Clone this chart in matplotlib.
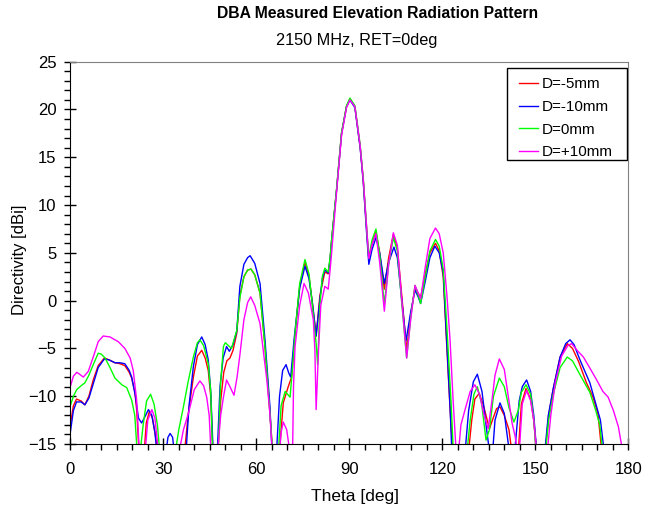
import matplotlib
matplotlib.use("Agg")
import matplotlib.pyplot as plt
from matplotlib.ticker import MultipleLocator
from matplotlib.patches import Rectangle

plt.rcParams['font.family'] = ['Liberation Sans', 'DejaVu Sans']

LOW = -16  # below axis floor, clipped by the axes

theta_red = [0, 1, 2, 3.5, 4.7, 6, 7.4, 9, 11, 12.5, 14.4, 16, 17.6, 19, 19.8, 20.8, 21.4, 22.2,
             23.8, 24.5, 25.5, 26.5, 27.5, 28.2,
             36.8, 38, 39.7, 41, 42.4, 43.5, 44.5, 45.3, 46,
             47.6, 48.5, 49.5, 50.5, 51.5, 52.5, 53.7, 54.7, 56, 57.2, 58.3, 59.5, 61.2, 62.8, 64.4, 65.3,
             67.4, 68.7, 70.3, 71.4, 72.5, 74, 75.7, 77, 78, 79.3, 80.5, 82.1, 83.2, 83.8, 84.3, 85.9,
             87.5, 89.1, 90.2, 91.8, 93.5, 94.5, 95.6, 96.3, 97.3, 98.6, 99.8, 101.3, 102.7, 104.2,
             105.5, 106.8, 108.5, 109.8, 111.2, 112.2, 113, 114.5, 116, 117.8, 119, 120.3, 121.4,
             122.5, 123.4,
             128.4, 129.5, 130.5, 131.9, 133.3, 135.2, 136.5, 137.5, 138.6, 140, 141.5, 142.5,
             144.5, 145.5, 147, 148.5, 149.5, 150.4,
             153.2, 154.3, 155.8, 158, 160.3, 162, 164, 166.5, 168.5, 170.2, 171.5]
db_red = [-13.0, -11.0, -10.3, -10.5, -10.9, -10.0, -8.3, -6.8, -6.0, -6.2, -6.5, -6.6, -6.8, -7.5, -8.1, -9.5, -11.4, LOW,
          LOW, -12.8, -11.6, -12.3, -14.2, LOW,
          LOW, -12.0, -8.0, -5.8, -5.2, -6.0, -7.3, -10.0, LOW,
          LOW, -10.5, -7.5, -6.3, -6.0, -5.2, -3.4, 0.5, 2.5, 3.2, 3.3, 2.7, 0.8, -4.8, -11.8, LOW,
          LOW, -10.7, -9.0, -8.0, -3.5, 1.5, 4.0, 2.5, 0.0, -3.7, 0.5, 3.0, 2.8, 4.3, 6.3, 11.6,
          17.5, 20.3, 21.1, 20.3, 16.1, 12.6, 7.4, 4.3, 5.8, 7.2, 5.0, 1.2, 4.5, 6.9,
          5.5, 1.0, -5.2, -1.5, 1.4, 0.8, 0.3, 2.8, 5.0, 6.0, 5.2, 2.5, -4.5,
          -11.3, LOW,
          LOW, -12.5, -10.3, -9.7, -11.0, -13.4, -12.2, -11.3, -11.1, -12.0, -13.5, LOW,
          LOW, -10.8, -9.2, -10.3, -12.5, LOW,
          LOW, -12.0, -9.2, -5.9, -4.5, -5.0, -6.4, -8.6, -10.0, -11.8, LOW]

theta_blue = [0, 1, 2, 3.5, 4.7, 6, 7.4, 9, 11, 12.5, 14.4, 16, 17.6, 19, 19.8, 21, 22, 23, 24, 25.2,
              26.3, 27.3, 28,
              30.8, 31.5, 32.2, 33, 33.6,
              37.3, 38.3, 39.7, 41, 42.4, 43.5, 44.5, 45.3, 46.1,
              47.4, 48.3, 49.3, 50.4, 51.3, 52.5, 53.7, 54.7, 56, 57.2, 58, 59.5, 61.2, 62.8, 64.4, 65.1,
              66.5, 67.5, 68.5, 69.6, 70.5, 71.1, 72.2, 74, 75.7, 77, 78.2, 79.3, 80.5, 81.3, 82.1, 83.2,
              83.8, 84.3, 85.9, 87.5, 89.1, 90.2, 91.8, 93.5, 94.5, 95.6, 96.3, 97.3, 98.6, 99.8, 101.3,
              102.7, 104.4, 105.5, 106.8, 108.3, 109.8, 111.2, 112.2, 113, 114.5, 116, 117.6, 119, 120.3,
              121.4, 122.5, 123.1,
              127.3, 128.5, 130, 131.3, 132.8, 134.3, 135.3, 136.2, 137, 138.6, 140, 141.7,
              143.3, 144.8, 145.8, 147.2, 148.5, 149.5, 150.5,
              153, 154.2, 155.8, 158, 159.8, 161.2, 162.5, 164.4, 167.6, 169.8, 171, 172.3]
db_blue = [-13.8, -11.5, -10.6, -10.6, -10.9, -10.2, -8.7, -7.0, -6.1, -6.2, -6.5, -6.5, -6.6, -7.3, -8.0, -10.0, -12.3, -12.8, -12.2, -11.4,
           -12.0, -13.8, LOW,
           LOW, -14.3, -13.9, -14.3, LOW,
           LOW, -11.0, -6.9, -4.6, -3.8, -4.6, -6.2, -9.5, LOW,
           LOW, -9.0, -6.0, -4.8, -5.3, -4.6, -3.2, 1.5, 3.8, 4.5, 4.7, 3.9, 1.8, -4.1, -11.1, LOW,
           LOW, -10.0, -7.3, -6.7, -7.6, -8.0, -4.0, 1.3, 3.6, 2.3, -0.5, -3.7, 0.1, 2.3, 3.2, 2.9,
           4.3, 6.3, 11.6, 17.5, 20.3, 21.0, 20.2, 16.0, 12.4, 7.0, 3.8, 5.3, 6.6, 5.0, 1.8,
           4.0, 5.6, 4.5, 0.5, -4.2, -1.2, 1.1, 0.4, -0.3, 2.0, 4.5, 5.7, 5.0, 2.9,
           -4.1, -11.1, LOW,
           LOW, -11.5, -8.5, -7.7, -9.5, -13.5, LOW, LOW, -12.5, -10.7, -11.8, LOW,
           LOW, -10.5, -9.0, -8.3, -9.5, -12.0, LOW,
           LOW, -12.0, -9.2, -5.9, -4.5, -4.1, -4.6, -6.2, -8.6, -11.1, -12.5, LOW]

theta_green = [0, 1, 2.1, 3.5, 4.7, 6, 7.4, 9, 10, 11.2, 12.8, 14.4, 16.6, 18.2, 19.8, 20.8, 21.6,
               22.5, 23.5, 24.6, 25.9, 27, 28.1, 28.9,
               33.8, 35, 36.5, 38, 39.7, 41, 41.8, 43, 44.5, 45.3, 45.9,
               47.7, 48.5, 49.4, 50, 51, 52, 53.7, 54.7, 56, 57.2, 58.3, 59.5, 61.2, 62.8, 64.4, 65.3,
               67.1, 68, 69.3, 70.9, 71.8, 72.5, 74, 75.7, 77, 77.9, 79.3, 79.8, 80.5, 81.3, 82.1, 83.2,
               83.8, 84.3, 85.9, 87.5, 89.1, 90.2, 91.8, 93.5, 94.5, 95.6, 96.3, 97.3, 98.6, 99.8, 101.3,
               102.7, 104.2, 105.5, 106.8, 108.5, 109.8, 111.2, 112.2, 113, 114.5, 116, 117.8, 119, 120.3,
               121.6, 122.8, 123.6,
               127.9, 129, 130.2, 131.3, 132.7, 134.1, 135.2, 136.5, 138.4, 140, 141.5, 143.1, 144.5,
               145.5, 147, 148.5, 149.5, 150.4,
               153.2, 154.3, 155.8, 158, 160.3, 162, 164, 167.6, 169.5, 170.8, 171.8]
db_green = [-11.0, -10.0, -9.3, -8.9, -8.6, -7.8, -6.7, -5.5, -5.6, -6.0, -7.0, -8.1, -8.8, -9.1, -10.4, -12.0, LOW,
            LOW, -13.0, -10.5, -9.8, -10.8, -13.0, LOW,
            LOW, -13.5, -11.1, -8.5, -5.9, -4.4, -4.1, -4.7, -6.6, -9.5, LOW,
            LOW, -8.5, -4.8, -4.4, -4.7, -5.0, -3.1, 0.3, 2.5, 3.2, 3.3, 2.7, 0.8, -4.8, -11.8, LOW,
            LOW, -11.0, -9.5, -10.1, -6.5, -3.4, 1.8, 4.3, 2.8, 0.1, -4.5, -6.7, -0.5, 2.5, 3.4, 3.0,
            4.5, 6.4, 11.7, 17.6, 20.4, 21.2, 20.4, 16.3, 12.8, 7.6, 4.5, 6.3, 7.5, 4.8, -0.4,
            3.8, 6.6, 5.2, 0.2, -6.0, -1.8, 1.6, 0.6, -0.3, 2.5, 5.2, 6.4, 5.7, 3.3,
            -3.5, -10.5, LOW,
            LOW, -12.5, -9.8, -9.0, -10.8, -14.6, -13.5, -10.0, -8.1, -9.0, -11.2, -12.7, -11.5,
            -9.6, -8.8, -9.8, -12.5, LOW,
            LOW, -12.5, -9.8, -7.0, -5.9, -6.3, -7.5, -9.6, -11.5, -13.0, LOW]

theta_mag = [0, 1, 2.1, 3, 4.2, 5.8, 7.4, 9, 10.6, 12.8, 15.5, 17.6, 19.3, 20.3, 21.4, 22.3,
             24.1, 25, 26.3, 27.3, 28.5,
             35, 36.5, 38.1, 40, 41.8, 43, 44, 44.8, 45.4,
             47.5, 48.5, 49.4, 50.4, 51.5, 52.8, 53.8, 54.7, 56, 57.2, 58.2, 59.5, 61.2, 63.4, 64.3, 65.2,
             67.5, 68, 68.7, 69.8, 70.9,
             71.7, 72, 72.5, 74, 75.4, 76.8, 78.4, 78.9, 79.3, 80.1, 80.8, 81.5, 82.1, 83.2, 83.8, 84.3,
             85.9, 87.5, 89.1, 90.2, 91.8, 93.5, 94.5, 95.6, 96.3, 97.3, 98.6, 99.8, 101.3, 102.7, 104.2,
             105.5, 106.8, 108.5, 109.8, 111.2, 112.2, 113, 114.5, 116, 117.8, 119, 120.3, 121.5, 122.5,
             123.5, 124.5,
             125.2, 126, 127.6, 129, 130.5, 132, 133.5, 134.8, 136, 137, 138.4, 140, 141.5, 142.5, 143.5, 144.3,
             144.8, 145.8, 147.2, 148.5, 149.5, 150.5,
             153.8, 155, 156.5, 158.5, 160.5, 161.7, 163.5, 165.5, 167.5, 169.8, 171.8, 173.5, 175.2, 176.8, 178.3]
db_mag = [-9.0, -7.9, -7.5, -7.7, -8.0, -7.4, -5.9, -4.3, -3.7, -3.8, -4.3, -5.0, -6.0, -7.3, -10.4, LOW,
          LOW, -12.5, -11.4, -12.3, LOW,
          LOW, -13.5, -11.8, -9.3, -8.4, -8.9, -10.1, -12.0, LOW,
          LOW, -12.0, -10.1, -8.3, -9.0, -9.9, -8.0, -5.7, -2.0, -0.2, 0.4, -0.5, -2.4, -8.3, -11.5, LOW,
          LOW, -13.8, -12.7, -13.5, LOW,
          LOW, -9.0, -4.8, -0.5, 1.8, 0.8, -2.0, -5.2, -11.4, -5.0, -0.5, 0.6, 1.5, 1.2, 3.2, 5.0,
          11.4, 17.3, 20.2, 21.0, 20.3, 16.2, 12.7, 7.6, 4.4, 5.8, 7.0, 4.0, -1.1, 3.8, 7.1,
          5.8, 0.5, -6.0, -2.0, 1.6, 0.8, 0.2, 3.5, 6.5, 7.6, 7.0, 5.0, 0.5, -4.1,
          -10.5, LOW,
          LOW, -13.0, -11.1, -9.5, -8.8, -9.8, -12.0, -13.4, -10.5, -7.8, -6.1, -7.2, -10.5, -12.8, -14.2, LOW,
          LOW, -10.8, -9.4, -10.5, -12.5, LOW,
          LOW, -12.0, -8.5, -5.8, -4.7, -4.5, -5.2, -5.9, -7.0, -8.3, -9.5, -10.1, -11.5, -13.2, LOW]

series = [
    ("D=-5mm", theta_red, db_red, "#ff0000"),
    ("D=-10mm", theta_blue, db_blue, "#0000ff"),
    ("D=0mm", theta_green, db_green, "#00ff00"),
    ("D=+10mm", theta_mag, db_mag, "#ff00ff"),
]

W, H = 658, 512
AX_L, AX_R, AX_T, AX_B = 70.3, 628.3, 61.7, 444.0

fig = plt.figure(figsize=(W / 100, H / 100), dpi=100)
ax = fig.add_axes([AX_L / W, 1 - AX_B / H, (AX_R - AX_L) / W, (AX_B - AX_T) / H])

for label, th, db, c in series:
    ax.plot(th, db, color=c, lw=1.0, label=label, solid_joinstyle='round')

ax.set_xlim(0, 180)
ax.set_ylim(-15, 25)
ax.xaxis.set_major_locator(MultipleLocator(30))
ax.xaxis.set_minor_locator(MultipleLocator(5))
ax.yaxis.set_major_locator(MultipleLocator(5))
ax.yaxis.set_minor_locator(MultipleLocator(1))
ax.tick_params(which='major', direction='inout', length=8, width=1, labelsize=12)
ax.tick_params(axis='x', which='major', pad=9)
ax.tick_params(axis='y', which='major', pad=6)
ax.tick_params(which='minor', direction='out', length=4, width=1)
ax.tick_params(top=False, right=False)

for s in ['top', 'right']:
    ax.spines[s].set_color('#808080')
for s in ['left', 'bottom']:
    ax.spines[s].set_color('black')

ax.set_xlabel("Theta [deg]", fontsize=12.5)
ax.xaxis.set_label_coords((355 - AX_L) / (AX_R - AX_L), -(497 - AX_B) / (AX_B - AX_T))
ax.xaxis.label.set_va('center')
ax.set_ylabel("Directivity [dBi]", fontsize=12)
ax.yaxis.set_label_coords(-(AX_L - 20) / (AX_R - AX_L), (AX_B - 260) / (AX_B - AX_T))
ax.yaxis.label.set_va('center')

fig.text(377.5 / W, 1 - 14 / H, "DBA Measured Elevation Radiation Pattern",
         ha='center', va='center', fontsize=11.3, fontweight='bold')
fig.text(357 / W, 1 - 40 / H, "2150 MHz, RET=0deg",
         ha='center', va='center', fontsize=11.7)

# legend frame (square box at the reference position)
def fx(px):
    return (px - AX_L) / (AX_R - AX_L)

def fy(py):
    return (AX_B - py) / (AX_B - AX_T)

ax.add_patch(Rectangle((fx(507.3), fy(160.0)), fx(626.7) - fx(507.3), fy(68.3) - fy(160.0),
                       transform=ax.transAxes, facecolor='white', edgecolor='black',
                       lw=1.0, zorder=5))
leg = ax.legend(loc='upper left', bbox_to_anchor=(fx(519.3), fy(77.5)), fontsize=11,
                frameon=False, borderaxespad=0.0, borderpad=0.0,
                handlelength=1.25, handletextpad=0.22, labelspacing=0.56)
leg.set_zorder(6)

fig.savefig("out.png", dpi=100)
